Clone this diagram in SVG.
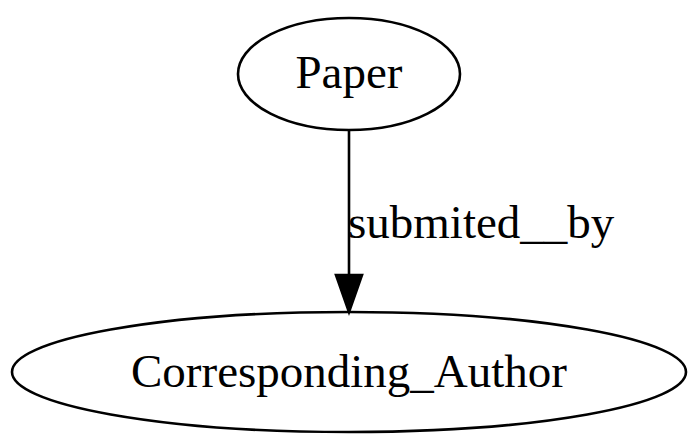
<svg xmlns="http://www.w3.org/2000/svg" width="700" height="445" viewBox="0 0 700 445">
<style>
.node ellipse{fill:none;stroke:#000;stroke-width:2.6}
text{font-family:"Liberation Serif","Times New Roman",serif;font-size:47px;fill:#000}
.edge line{stroke:#000;stroke-width:2.6}
</style>
<rect width="700" height="445" fill="#fff"/>
<g id="node-paper" class="node">
<ellipse cx="349" cy="74" rx="111" ry="56"/>
<text x="349" y="88" text-anchor="middle">Paper</text>
</g>
<g id="node-author" class="node">
<ellipse cx="349" cy="372" rx="337" ry="60"/>
<text x="349" y="387" text-anchor="middle">Corresponding_Author</text>
</g>
<g id="connectors" class="edge">
<line x1="349" y1="130" x2="349" y2="276"/>
<polygon points="336,275 362,275 349,312" fill="#000" stroke="#000" stroke-width="2.6"/>
<text x="348" y="238">submited__by</text>
</g>
</svg>
